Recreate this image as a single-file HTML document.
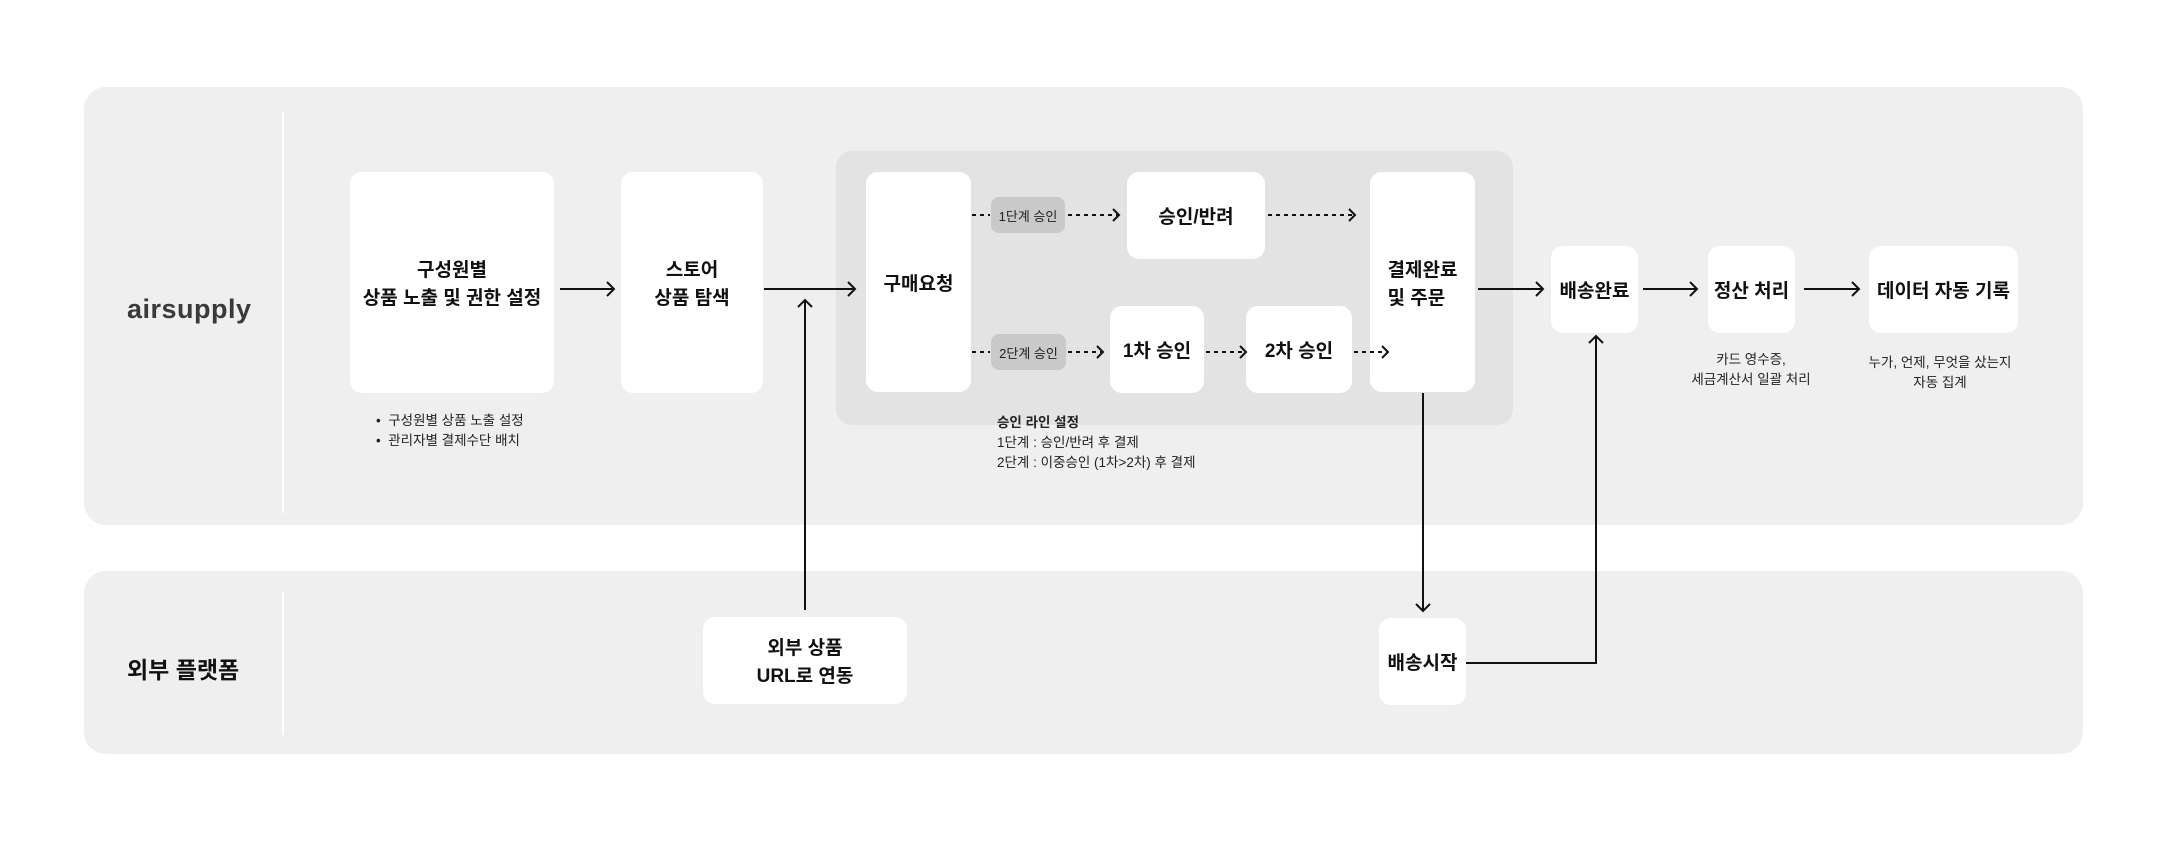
<!DOCTYPE html>
<html><head><meta charset="utf-8"><style>
body{margin:0;width:2168px;height:841px;background:#fff;position:relative;overflow:hidden;font-family:"Liberation Sans","Noto Sans CJK KR",sans-serif;color:#111}
.a{position:absolute}
.panel{background:#efefef;border-radius:22px}
.box{position:absolute;background:#fff;border-radius:12px;display:flex;align-items:center;justify-content:center;text-align:center;font-weight:bold;font-size:19px;line-height:28px;box-sizing:border-box;padding-top:5px}
.pill{position:absolute;background:#c9c9c9;border-radius:8px;font-size:13px;display:flex;align-items:center;justify-content:center;color:#222}
.sm{position:absolute;font-size:13.5px;line-height:20px;color:#222}
</style></head><body>
<div class="a panel" style="left:84px;top:87px;width:1999px;height:438px"></div>
<div class="a panel" style="left:84px;top:571px;width:1999px;height:183px"></div>
<div class="a" style="left:282px;top:112px;width:2px;height:401px;background:#fff"></div>
<div class="a" style="left:282px;top:592px;width:2px;height:143px;background:#fff"></div>
<div class="a" style="left:127px;top:294px;font-size:27px;color:#3a3a3a;letter-spacing:0.5px;font-weight:bold">airsupply</div>
<div class="a" style="left:127px;top:651px;font-size:23px;font-weight:bold">외부 플랫폼</div>
<div class="a" style="left:836px;top:151px;width:677px;height:274px;background:#e3e3e3;border-radius:16px"></div>

<div class="box" style="left:350px;top:172px;width:204px;height:221px">구성원별<br>상품 노출 및 권한 설정</div>
<div class="box" style="left:621px;top:172px;width:142px;height:221px">스토어<br>상품 탐색</div>
<div class="box" style="left:866px;top:172px;width:105px;height:220px">구매요청</div>
<div class="pill" style="left:991px;top:197px;width:74px;height:36px">1단계 승인</div>
<div class="pill" style="left:991px;top:334px;width:75px;height:36px">2단계 승인</div>
<div class="box" style="left:1127px;top:172px;width:138px;height:87px">승인/반려</div>
<div class="box" style="left:1110px;top:306px;width:94px;height:87px">1차 승인</div>
<div class="box" style="left:1246px;top:306px;width:106px;height:87px">2차 승인</div>
<div class="box" style="left:1370px;top:172px;width:105px;height:220px;"><div style="text-align:left">결제완료<br>및 주문</div></div>
<div class="box" style="left:1551px;top:246px;width:87px;height:87px">배송완료</div>
<div class="box" style="left:1708px;top:246px;width:87px;height:87px">정산 처리</div>
<div class="box" style="left:1869px;top:246px;width:149px;height:87px">데이터 자동 기록</div>
<div class="box" style="left:703px;top:617px;width:204px;height:87px">외부 상품<br>URL로 연동</div>
<div class="box" style="left:1379px;top:618px;width:87px;height:87px">배송시작</div>

<div class="sm" style="left:376px;top:411px">•&nbsp; 구성원별 상품 노출 설정<br>•&nbsp; 관리자별 결제수단 배치</div>
<div class="sm" style="left:997px;top:413px"><b>승인 라인 설정</b><br>1단계 : 승인/반려 후 결제<br>2단계 : 이중승인 (1차&gt;2차) 후 결제</div>
<div class="sm" style="left:1671px;top:350px;width:160px;text-align:center">카드 영수증,<br>세금계산서 일괄 처리</div>
<div class="sm" style="left:1860px;top:353px;width:160px;text-align:center">누가, 언제, 무엇을 샀는지<br>자동 집계</div>

<svg class="a" style="left:0;top:0" width="2168" height="841" fill="none" stroke="#111" stroke-width="2">
<g>
<line x1="560" y1="289" x2="614" y2="289"/><polyline points="607,282 614,289 607,296"/>
<line x1="764" y1="289" x2="855" y2="289"/><polyline points="848,282 855,289 848,296"/>
<line x1="805" y1="610" x2="805" y2="300"/><polyline points="798,307 805,300 812,307"/>
<line x1="1478" y1="289" x2="1543" y2="289"/><polyline points="1536,282 1543,289 1536,296"/>
<line x1="1643" y1="289" x2="1697" y2="289"/><polyline points="1690,282 1697,289 1690,296"/>
<line x1="1804" y1="289" x2="1859" y2="289"/><polyline points="1852,282 1859,289 1852,296"/>
<line x1="1423" y1="393" x2="1423" y2="611"/><polyline points="1416,604 1423,611 1430,604"/>
<polyline points="1466,663 1596,663 1596,336"/><polyline points="1589,343 1596,336 1603,343"/>
</g>
<g stroke-dasharray="4 4">
<line x1="972" y1="215" x2="990" y2="215"/>
<line x1="1068" y1="215" x2="1118" y2="215"/>
<line x1="1268" y1="215" x2="1354" y2="215"/>
<line x1="972" y1="352" x2="990" y2="352"/>
<line x1="1068" y1="352" x2="1101" y2="352"/>
<line x1="1206" y1="352" x2="1244" y2="352"/>
<line x1="1354" y1="352" x2="1387" y2="352"/>
</g>
<polyline points="1113,209 1119,215 1113,221"/>
<polyline points="1349,209 1355,215 1349,221"/>
<polyline points="1097,346 1103,352 1097,358"/>
<polyline points="1240,346 1246,352 1240,358"/>
<polyline points="1382,346 1388,352 1382,358"/>
</svg>
</body></html>
